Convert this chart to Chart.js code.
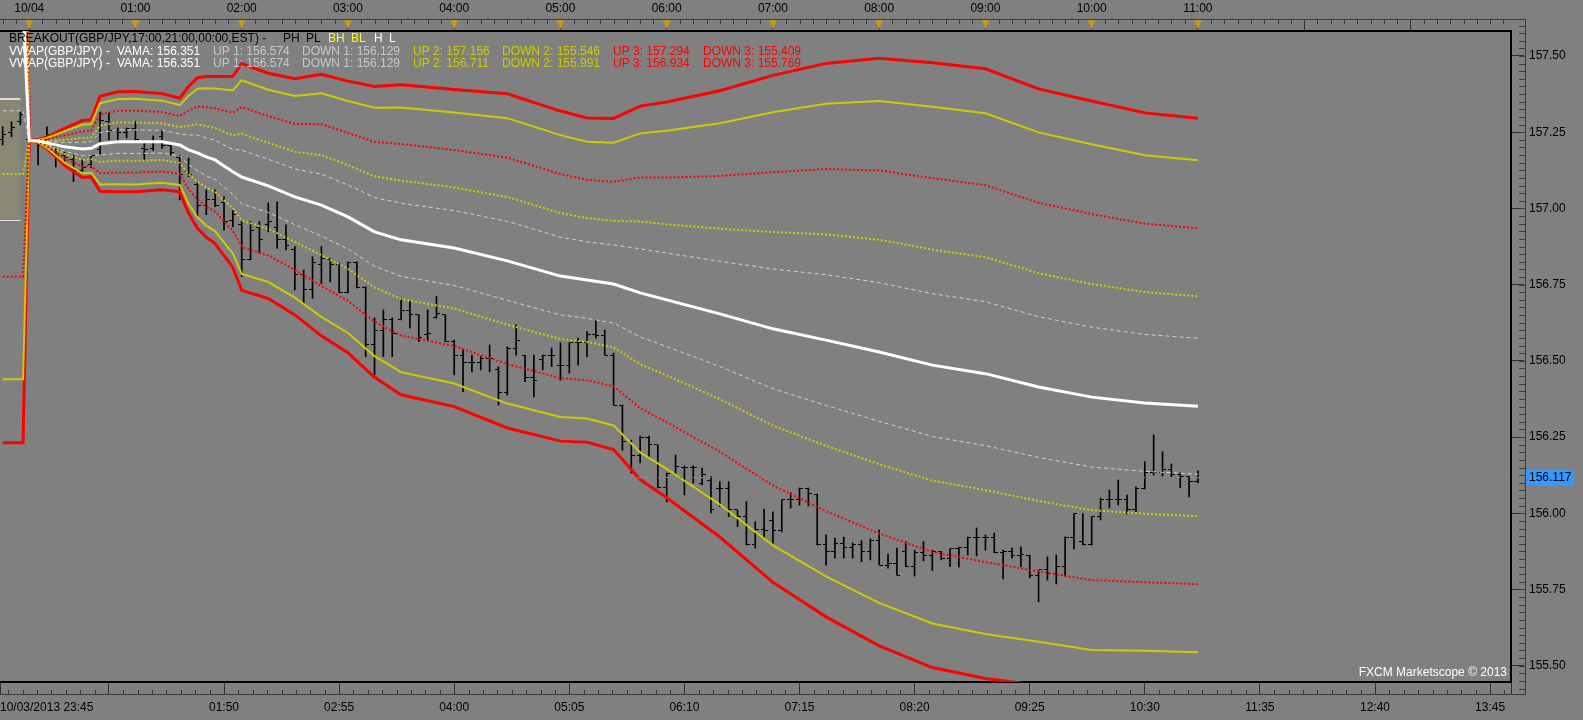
<!DOCTYPE html>
<html>
<head>
<meta charset="utf-8">
<script src="https://cdn.jsdelivr.net/npm/chart.js@4.4.0/dist/chart.umd.min.js"></script>
<style>
  html, body { margin: 0; padding: 0; background: #808080; }
  #wrap { width: 1583px; height: 720px; }
</style>
</head>
<body>
<div id="wrap"><canvas id="chart" width="1583" height="720"></canvas></div>
<script>
// GBP/JPY 5 minute bars, time axis in minutes from 10/04 00:00
var firstBarMin = -15;
var barStep = 5;

var barOpen = [
  157.225, 157.248, 157.284, 157.225, 157.219, 157.221, 157.205, 157.175, 157.159, 157.126,
  157.143, 157.192, 157.284, 157.257, 157.248, 157.261, 157.198, 157.198, 157.235, 157.208,
  157.166, 157.120, 157.077, 157.011, 157.028, 157.018, 156.962, 156.946, 156.831, 156.936,
  156.946, 156.936, 156.897, 156.864, 156.782, 156.733, 156.815, 156.831, 156.815, 156.723,
  156.824, 156.739, 156.552, 156.601, 156.634, 156.634, 156.664, 156.651, 156.585, 156.641,
  156.651, 156.565, 156.519, 156.496, 156.496, 156.509, 156.470, 156.395, 156.542, 156.519,
  156.444, 156.503, 156.519, 156.486, 156.486, 156.559, 156.559, 156.585, 156.582, 156.519,
  156.355, 156.234, 156.191, 156.250, 156.224, 156.083, 156.129, 156.150, 156.150, 156.099,
  156.106, 156.080, 156.080, 156.011, 155.991, 155.896, 155.948, 155.975, 155.942, 156.044,
  156.044, 156.080, 156.063, 155.896, 155.873, 155.902, 155.889, 155.896, 155.876, 155.912,
  155.830, 155.834, 155.876, 155.824, 155.870, 155.860, 155.874, 155.850, 155.883, 155.889,
  155.919, 155.919, 155.919, 155.870, 155.876, 155.860, 155.863, 155.797, 155.814, 155.804,
  155.827, 155.919, 155.906, 155.896, 155.988, 156.044, 156.044, 156.044, 156.011, 156.080,
  156.135, 156.135, 156.145, 156.126, 156.119, 156.103
];
var barHigh = [
  157.268, 157.284, 157.317, 157.248, 157.219, 157.268, 157.208, 157.185, 157.175, 157.159,
  157.175, 157.316, 157.313, 157.264, 157.264, 157.285, 157.219, 157.238, 157.257, 157.214,
  157.175, 157.165, 157.084, 157.061, 157.061, 157.039, 156.995, 156.957, 156.957, 156.957,
  157.018, 157.022, 156.946, 156.875, 156.798, 156.842, 156.875, 156.837, 156.821, 156.825,
  156.825, 156.743, 156.641, 156.667, 156.641, 156.706, 156.694, 156.651, 156.667, 156.711,
  156.651, 156.568, 156.536, 156.519, 156.514, 156.552, 156.481, 156.546, 156.618, 156.519,
  156.519, 156.519, 156.542, 156.559, 156.559, 156.575, 156.596, 156.634, 156.601, 156.526,
  156.355, 156.240, 156.253, 156.253, 156.224, 156.132, 156.191, 156.155, 156.156, 156.148,
  156.120, 156.104, 156.104, 156.011, 156.038, 155.972, 156.014, 156.005, 156.044, 156.067,
  156.083, 156.083, 156.063, 155.929, 155.919, 155.922, 155.903, 155.910, 155.916, 155.945,
  155.866, 155.886, 155.907, 155.879, 155.907, 155.879, 155.874, 155.883, 155.889, 155.922,
  155.952, 155.929, 155.935, 155.879, 155.886, 155.890, 155.863, 155.814, 155.857, 155.863,
  155.923, 155.999, 155.999, 155.989, 156.050, 156.076, 156.109, 156.060, 156.087, 156.169,
  156.257, 156.202, 156.162, 156.133, 156.120, 156.139
];
var barLow = [
  157.208, 157.235, 157.274, 157.198, 157.143, 157.219, 157.136, 157.152, 157.088, 157.121,
  157.133, 157.179, 157.225, 157.219, 157.231, 157.219, 157.159, 157.190, 157.197, 157.175,
  157.028, 157.104, 156.973, 156.979, 157.006, 156.929, 156.940, 156.776, 156.831, 156.853,
  156.923, 156.869, 156.864, 156.733, 156.689, 156.705, 156.754, 156.759, 156.723, 156.723,
  156.739, 156.514, 156.454, 156.514, 156.514, 156.634, 156.607, 156.563, 156.568, 156.640,
  156.563, 156.454, 156.399, 156.464, 156.470, 156.464, 156.355, 156.388, 156.519, 156.432,
  156.382, 156.470, 156.481, 156.437, 156.460, 156.486, 156.514, 156.574, 156.519, 156.355,
  156.207, 156.132, 156.165, 156.185, 156.083, 156.037, 156.126, 156.060, 156.099, 156.093,
  156.001, 156.022, 155.989, 155.956, 155.896, 155.886, 155.919, 155.902, 155.939, 156.017,
  156.027, 156.024, 155.896, 155.830, 155.853, 155.853, 155.853, 155.841, 155.847, 155.830,
  155.820, 155.797, 155.824, 155.794, 155.844, 155.812, 155.847, 155.825, 155.824, 155.863,
  155.860, 155.879, 155.870, 155.785, 155.853, 155.825, 155.788, 155.710, 155.781, 155.768,
  155.794, 155.883, 155.896, 155.896, 155.978, 156.017, 156.027, 155.998, 156.005, 156.080,
  156.126, 156.122, 156.120, 156.084, 156.054, 156.100
];
var barClose = [
  157.241, 157.264, 157.307, 157.221, 157.208, 157.241, 157.175, 157.166, 157.126, 157.133,
  157.172, 157.290, 157.257, 157.248, 157.261, 157.225, 157.192, 157.221, 157.208, 157.182,
  157.110, 157.110, 157.011, 157.028, 157.011, 156.956, 156.979, 156.831, 156.929, 156.897,
  156.956, 156.897, 156.880, 156.782, 156.733, 156.821, 156.837, 156.815, 156.723, 156.824,
  156.742, 156.552, 156.601, 156.634, 156.591, 156.664, 156.651, 156.575, 156.591, 156.654,
  156.565, 156.519, 156.496, 156.496, 156.509, 156.509, 156.395, 156.542, 156.568, 156.444,
  156.437, 156.519, 156.519, 156.486, 156.559, 156.559, 156.585, 156.582, 156.519, 156.355,
  156.234, 156.191, 156.250, 156.224, 156.083, 156.129, 156.155, 156.150, 156.150, 156.126,
  156.011, 156.080, 156.011, 155.991, 155.896, 155.948, 155.945, 155.942, 156.044, 156.044,
  156.080, 156.066, 155.896, 155.873, 155.902, 155.889, 155.896, 155.876, 155.912, 155.830,
  155.834, 155.797, 155.824, 155.870, 155.860, 155.876, 155.850, 155.883, 155.889, 155.919,
  155.919, 155.919, 155.870, 155.876, 155.860, 155.866, 155.797, 155.814, 155.804, 155.827,
  155.919, 155.999, 155.896, 155.988, 156.044, 156.044, 156.044, 156.011, 156.080, 156.135,
  156.135, 156.145, 156.126, 156.119, 156.103, 156.117
];

// VWAP: centre (VAMA) and one standard deviation, sampled along the session
// the first two samples are the previous session, still running until the 00:00 reset
var vwapTimes = [-15, -3.5, 0, 5, 10, 20, 30, 35, 40, 50, 60, 75, 85, 90, 95, 100, 105, 110, 115, 120,
  135, 150, 165, 180, 195, 210, 240, 270, 300, 315, 330, 345, 360, 390, 420, 450, 480, 510, 540, 570,
  600, 630, 660];
var vwapMid = [157.657, 157.657, 157.223, 157.221, 157.215, 157.202, 157.195, 157.197, 157.212, 157.219,
  157.219, 157.219, 157.208, 157.192, 157.182, 157.169, 157.159, 157.139, 157.120, 157.103,
  157.074, 157.038, 157.011, 156.972, 156.923, 156.897, 156.870, 156.828, 156.778, 156.765,
  156.752, 156.723, 156.700, 156.654, 156.605, 156.568, 156.529, 156.486, 156.458, 156.414,
  156.381, 156.362, 156.351];
var vwapDev = [0.3365, 0.3365, 0, 0.0012, 0.0045, 0.0143, 0.0220, 0.0221, 0.0368, 0.0387,
  0.0388, 0.0372, 0.0362, 0.0491, 0.0583, 0.0623, 0.0647, 0.0693, 0.0740, 0.0878,
  0.0872, 0.0914, 0.1013, 0.1052, 0.1126, 0.1200, 0.1228, 0.1294, 0.1278, 0.1255,
  0.1282, 0.1446, 0.1533, 0.1728, 0.1963, 0.2143, 0.2275, 0.2342, 0.2361, 0.2309,
  0.2293, 0.2246, 0.2230];
// band multipliers: UP/DOWN 1, 2 and 3 of the second VWAP, UP/DOWN 2 and 3 of the first
var bandMult = [1, 1.618, 2.618, 3.618, 4.236];

// breakout box (BH / BL) left of the session start
var boxTimes = [-17, -5];
var boxHigh = 157.359;
var boxLow = 156.962;

var lastPrice = 156.117;

// axes
var viewStart = -16.5, viewEnd = 836.8;
var priceMin = 155.4465, priceMax = 157.582;
var priceTicks = [155.50, 155.75, 156.00, 156.25, 156.50, 156.75, 157.00, 157.25, 157.50];
var hourTicks = [0, 60, 120, 180, 240, 300, 360, 420, 480, 540, 600, 660, 720, 780];
var bottomTicks = [viewStart, 45, 110, 175, 240, 305, 370, 435, 500, 565, 630, 695, 760, 825, viewEnd];

var legendRows = [
  [['BREAKOUT(GBP/JPY,17:00,21:00,00:00,EST) -', 9, '#000000'], ['PH', 283, '#000000'], ['PL', 306, '#000000'],
   ['BH', 328, '#ffff00'], ['BL', 351, '#ffff00'], ['H', 374, '#ffffff'], ['L', 389, '#ffffff']],
  [['VWAP(GBP/JPY) -', 9, '#ffffff'], ['VAMA: 156.351', 117, '#ffffff'], ['UP 1: 156.574', 213, '#c8c8c8'],
   ['DOWN 1: 156.129', 302, '#c8c8c8'], ['UP 2: 157.156', 413, '#cccc00'], ['DOWN 2: 155.546', 502, '#cccc00'],
   ['UP 3: 157.294', 613, '#ff0000'], ['DOWN 3: 155.409', 703, '#ff0000']],
  [['VWAP(GBP/JPY) -', 9, '#ffffff'], ['VAMA: 156.351', 117, '#ffffff'], ['UP 1: 156.574', 213, '#c8c8c8'],
   ['DOWN 1: 156.129', 302, '#c8c8c8'], ['UP 2: 156.711', 413, '#cccc00'], ['DOWN 2: 155.991', 502, '#cccc00'],
   ['UP 3: 156.934', 613, '#ff0000'], ['DOWN 3: 155.769', 703, '#ff0000']]
];

Chart.defaults.font.family = "'Liberation Sans', Arial, sans-serif";
Chart.defaults.font.size = 12;

function hhmm(m) {
  var h = (Math.floor(m / 60) + 24) % 24;
  var mm = ((m % 60) + 60) % 60;
  return (h < 10 ? '0' : '') + h + ':' + (mm < 10 ? '0' : '') + mm;
}

function makeTick(left) {
  var c = document.createElement('canvas');
  c.width = 7; c.height = 1;
  var g = c.getContext('2d');
  g.fillStyle = '#000000';
  g.fillRect(left ? 0 : 4, 0, 3, 1);
  return c;
}
var openTick = makeTick(true);
var closeTick = makeTick(false);

var barTimes = barOpen.map(function (v, i) { return firstBarMin + i * barStep; });

var bandLook = [
  { color: '#d0d0d0', width: 1, dash: [4, 3] },
  { color: '#cccc00', width: 2, dash: [2, 2] },
  { color: '#ff0000', width: 2, dash: [2, 2] },
  { color: '#cccc00', width: 2, dash: [] },
  { color: '#ff0000', width: 3, dash: [] }
];

function lineSet(points, color, width, dash, order) {
  return { type: 'line', data: points, borderColor: color, borderWidth: width, borderDash: dash,
    pointRadius: 0, tension: 0, fill: false, order: order };
}

var datasets = [];
// price bars
datasets.push({ type: 'bar', data: barTimes.map(function (t, i) { return { x: t, y: [barLow[i], barHigh[i]] }; }),
  backgroundColor: '#000000', borderWidth: 0, barThickness: 1, order: 5 });
datasets.push({ type: 'line', showLine: false, data: barTimes.map(function (t, i) { return { x: t, y: barOpen[i] }; }),
  pointStyle: openTick, pointRadius: 3, order: 5 });
datasets.push({ type: 'line', showLine: false, data: barTimes.map(function (t, i) { return { x: t, y: barClose[i] }; }),
  pointStyle: closeTick, pointRadius: 3, order: 5 });

// breakout box
datasets.push({ type: 'line', data: boxTimes.map(function (t) { return { x: t, y: boxHigh }; }),
  borderColor: '#ffffff', borderWidth: 1.5, pointRadius: 0, fill: '+1', backgroundColor: '#8a8873', order: 6 });
datasets.push({ type: 'line', data: boxTimes.map(function (t) { return { x: t, y: boxLow }; }),
  borderColor: '#ffffff', borderWidth: 1.5, pointRadius: 0, fill: false, order: 6 });

// VWAP bands
bandMult.forEach(function (m, b) {
  var look = bandLook[b];
  [1, -1].forEach(function (sign) {
    datasets.push(lineSet(vwapTimes.map(function (t, i) { return { x: t, y: vwapMid[i] + sign * m * vwapDev[i] }; }),
      look.color, look.width, look.dash, 2));
  });
});
datasets.push(lineSet(vwapTimes.map(function (t, i) { return { x: t, y: vwapMid[i] }; }), '#ffffff', 3, [], 1));

// last price line
datasets.push(lineSet([{ x: viewStart, y: lastPrice }, { x: viewEnd, y: lastPrice }], '#3c9cf5', 1, [4, 3], 0));

var decor = {
  id: 'decor',
  beforeDraw: function (chart) {
    var ctx = chart.ctx;
    ctx.save();
    ctx.fillStyle = '#808080';
    ctx.fillRect(0, 0, chart.width, chart.height);
    ctx.restore();
  },
  afterDraw: function (chart) {
    var ctx = chart.ctx;
    var xs = chart.scales.x, ys = chart.scales.y;
    ctx.save();
    // outer ruler frame
    ctx.strokeStyle = '#3a3a3a';
    ctx.lineWidth = 1;
    ctx.beginPath();
    ctx.moveTo(0, 19.5); ctx.lineTo(1525.5, 19.5); ctx.lineTo(1525.5, 694.5); ctx.lineTo(0, 694.5);
    ctx.stroke();
    // minor ticks
    ctx.beginPath();
    var t, px;
    for (t = -15; t <= viewEnd; t += 7.5) {
      if (t % 60 === 0) continue;
      px = Math.round(xs.getPixelForValue(t)) + 0.5;
      ctx.moveTo(px, 20); ctx.lineTo(px, 24);
    }
    for (t = 45 - 8.125 * 7; t <= viewEnd; t += 8.125) {
      if (Math.abs(((t - 45) / 65) - Math.round((t - 45) / 65)) < 0.01) continue;
      px = Math.round(xs.getPixelForValue(t)) + 0.5;
      if (px < 0) continue;
      ctx.moveTo(px, 690); ctx.lineTo(px, 694);
    }
    for (var v = 155.40; v <= 157.66; v += 0.025) {
      var py = ys.getPixelForValue(v);
      if (py < 20 || py > 694) continue;
      py = Math.round(py) + 0.5;
      ctx.moveTo(1519, py); ctx.lineTo(1525, py);
    }
    ctx.stroke();
    // hour markers on the top ruler
    ctx.fillStyle = '#c8961e';
    for (var h = 0; h <= 660; h += 60) {
      px = xs.getPixelForValue(h);
      ctx.beginPath();
      ctx.moveTo(px - 4, 20); ctx.lineTo(px + 4, 20); ctx.lineTo(px, 29); ctx.closePath();
      ctx.fill();
    }
    // legend rows
    ctx.font = "12px 'Liberation Sans', Arial, sans-serif";
    ctx.textBaseline = 'middle';
    ctx.textAlign = 'left';
    var rowY = [39, 52, 64];
    legendRows.forEach(function (row, r) {
      row.forEach(function (part) {
        ctx.fillStyle = part[2];
        ctx.fillText(part[0], part[1], rowY[r]);
      });
    });
    // current price tag
    var ly = ys.getPixelForValue(lastPrice);
    ctx.fillStyle = '#3399ff';
    ctx.fillRect(1526, Math.round(ly) - 8, 48, 16);
    ctx.fillStyle = '#000000';
    ctx.fillText(lastPrice.toFixed(3), 1529, ly);
    // footer
    ctx.fillStyle = '#ffffff';
    ctx.textAlign = 'right';
    ctx.fillText('FXCM Marketscope \u00a9 2013', 1507, 673);
    ctx.restore();
  }
};

function noPad(s) { s.paddingLeft = 0; s.paddingRight = 0; s.paddingTop = 0; s.paddingBottom = 0; }

var chart = new Chart(document.getElementById('chart'), {
  type: 'line',
  data: { datasets: datasets },
  options: {
    responsive: false,
    animation: false,
    events: [],
    layout: { padding: 0, autoPadding: false },
    plugins: { legend: { display: false }, tooltip: { enabled: false } },
    scales: {
      x: {
        type: 'linear', position: 'bottom', min: viewStart, max: viewEnd, offset: false,
        grid: { drawOnChartArea: false, tickLength: 12, tickColor: '#303030', offset: false },
        border: { display: true, color: '#000000', width: 2 },
        ticks: {
          autoSkip: false, maxRotation: 0, align: 'inner', color: '#000000', padding: 6,
          callback: function (v, i) {
            if (i === 0) return '10/03/2013 23:45';
            if (v === 45 || v === viewEnd) return '';
            return hhmm(v);
          }
        },
        afterBuildTicks: function (s) { s.ticks = bottomTicks.map(function (v) { return { value: v }; }); },
        afterFit: function (s) { s.height = 38; noPad(s); }
      },
      xTop: {
        type: 'linear', position: 'top', min: viewStart, max: viewEnd, offset: false,
        grid: { drawOnChartArea: false, tickLength: 11, tickColor: '#303030', offset: false },
        border: { display: true, color: '#000000', width: 2 },
        ticks: {
          autoSkip: false, maxRotation: 0, color: '#000000', padding: 4,
          callback: function (v) {
            if (v === 0) return '10/04';
            if (v > 660) return '';
            return hhmm(v);
          }
        },
        afterBuildTicks: function (s) { s.ticks = hourTicks.map(function (v) { return { value: v }; }); },
        afterFit: function (s) { s.height = 31; noPad(s); }
      },
      y: {
        type: 'linear', position: 'right', min: priceMin, max: priceMax,
        grid: { drawOnChartArea: false, tickLength: 13, tickColor: '#303030' },
        border: { display: true, color: '#000000', width: 2 },
        ticks: {
          autoSkip: false, color: '#000000', padding: 5,
          callback: function (v) { return v.toFixed(2); }
        },
        afterBuildTicks: function (s) { s.ticks = priceTicks.map(function (v) { return { value: v }; }); },
        afterFit: function (s) { s.width = 72; noPad(s); }
      }
    }
  },
  plugins: [decor]
});
</script>
</body>
</html>
